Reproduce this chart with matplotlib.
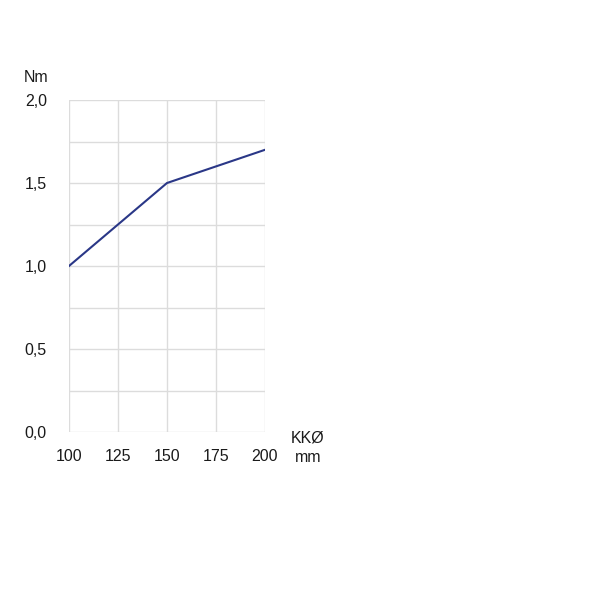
import matplotlib
matplotlib.use("Agg")
import matplotlib.pyplot as plt

x_vals = [100, 125, 150, 175, 200]
y_vals = [1.0, 1.25, 1.5, 1.6, 1.7]
x_ticks = [100, 125, 150, 175, 200]
y_ticks = [0.0, 0.5, 1.0, 1.5, 2.0]
y_tick_labels = ["0,0", "0,5", "1,0", "1,5", "2,0"]
y_grid = [0.0, 0.25, 0.5, 0.75, 1.0, 1.25, 1.5, 1.75, 2.0]

plt.rcParams['font.family'] = ['Liberation Sans', 'DejaVu Sans']

fig = plt.figure(figsize=(6, 6), dpi=100)
ax = fig.add_axes([69/600, 1-432/600, (265-69)/600, (432-100)/600])

for g in y_grid:
    ax.axhline(g, color='#dcdcdc', lw=1, zorder=1)
for g in x_ticks:
    ax.axvline(g, color='#dcdcdc', lw=1, zorder=1)

ax.plot(x_vals, y_vals, color='#2a3787', lw=1.5, zorder=3)

ax.set_xlim(100, 200)
ax.set_ylim(0, 2.0)
ax.set_xticks(x_ticks)
ax.set_xticklabels([str(v) for v in x_ticks])
ax.set_yticks(y_ticks)
ax.set_yticklabels(y_tick_labels)
ax.tick_params(axis='both', length=0, labelsize=11.5, colors='#1a1a1a')
ax.tick_params(axis='y', pad=16)
ax.tick_params(axis='x', pad=12.5)
for s in ax.spines.values():
    s.set_visible(False)

fig.text(36/600, 1-77/600, "Nm", ha='center', va='center', fontsize=11.5, color='#1a1a1a')
fig.text(308/600, 1-438/600, "KKØ", ha='center', va='center', fontsize=11.5, color='#1a1a1a')
fig.text(308/600, 1-457/600, "mm", ha='center', va='center', fontsize=11.5, color='#1a1a1a')

fig.savefig("out.png", dpi=100)
